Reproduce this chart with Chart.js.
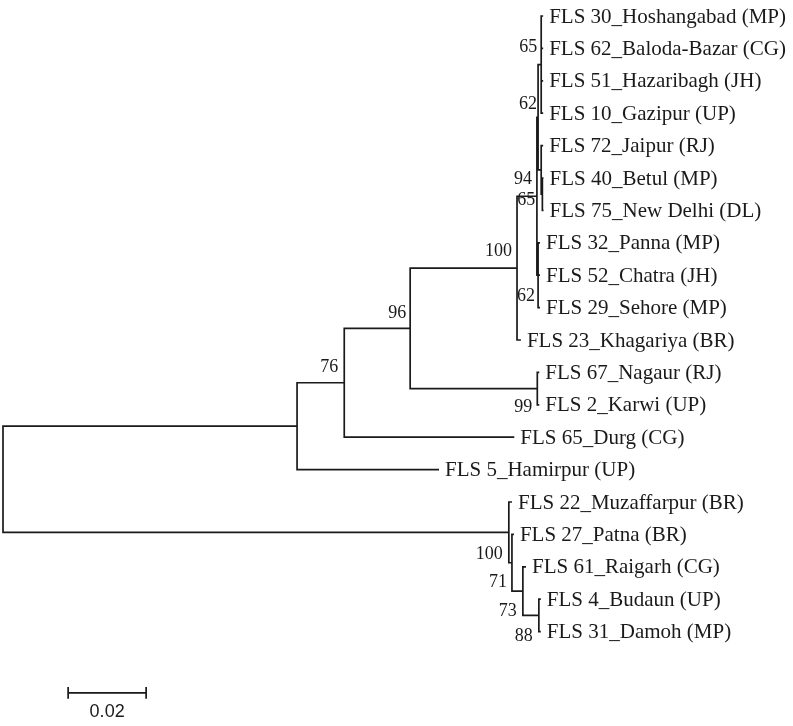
<!DOCTYPE html>
<html>
<head>
<meta charset="utf-8">
<script src="https://cdn.jsdelivr.net/npm/chart.js@4.4.1/dist/chart.umd.min.js"></script>
<style>
  html, body { margin: 0; padding: 0; background: #fff; }
  #wrap { width: 793px; height: 726px; }
</style>
</head>
<body>
<div id="wrap"><canvas id="treeChart" width="793" height="726"></canvas></div>
<script>
// Leaf labels, top to bottom
const leafNames = [
  "FLS 30_Hoshangabad (MP)", "FLS 62_Baloda-Bazar (CG)", "FLS 51_Hazaribagh (JH)",
  "FLS 10_Gazipur (UP)", "FLS 72_Jaipur (RJ)", "FLS 40_Betul (MP)",
  "FLS 75_New Delhi (DL)", "FLS 32_Panna (MP)", "FLS 52_Chatra (JH)",
  "FLS 29_Sehore (MP)", "FLS 23_Khagariya (BR)", "FLS 67_Nagaur (RJ)",
  "FLS 2_Karwi (UP)", "FLS 65_Durg (CG)", "FLS 5_Hamirpur (UP)",
  "FLS 22_Muzaffarpur (BR)", "FLS 27_Patna (BR)", "FLS 61_Raigarh (CG)",
  "FLS 4_Budaun (UP)", "FLS 31_Damoh (MP)"
];
const leafParents = ["S", "S", "S", "S", "U", "X", "X", "C", "C", "C",
  "N100", "N99", "N99", "N76", "N1", "L", "M", "D", "E", "E"];
const leafLengths = [0.0005, 0.0005, 0.0005, 0.0005, 0.0005, 0.0003, 0.0003,
  0.0005, 0.0005, 0.0005, 0.0010, 0.0005, 0.0005, 0.0436, 0.0364,
  0.0008, 0.0005, 0.0008, 0.0005, 0.0005];

// Internal nodes
const nodeNames   = ["root", "N1", "N76", "N96", "N100", "A", "B", "S", "U", "X", "C", "N99", "L", "M", "D", "E"];
const nodeParents = [null, "root", "N1", "N76", "N96", "N100", "A", "B", "B", "U", "A", "N96", "root", "L", "M", "D"];
const nodeLengths = [0, 0.0754, 0.0121, 0.0169, 0.0274, 0.0051, 0.0003, 0.0008, 0.0008, 0.0003, 0.0003, 0.0326, 0.1297, 0.0008, 0.0028, 0.0041];

// Bootstrap support values
const bootNodes  = ["S", "B", "A", "X", "N100", "C", "N96", "N99", "N76", "L", "M", "D", "E"];
const bootValues = [65, 62, 94, 65, 100, 62, 96, 99, 76, 100, 71, 73, 88];

const scaleBarValue = 0.02;

// label placement (pixels, relative to node): [dx right edge, dy centre]
const bootOffsets = [[-4, -17], [-1, -13], [-5, -17], [-7, 6], [-5, -17], [-3, 21], [-4, -15], [-5, 19],
  [-6, -16], [-6, 22], [-5, 20], [-6, 20], [-6, 21]];

// build tree geometry
var nodes = {};
nodeNames.forEach(function (n, i) {
  nodes[n] = { name: n, parent: nodeParents[i], len: nodeLengths[i], children: [] };
});
var leaves = leafNames.map(function (n, i) {
  return { name: n, parent: leafParents[i], len: leafLengths[i], y: i, children: [] };
});
nodeNames.forEach(function (n) {
  if (nodes[n].parent) nodes[nodes[n].parent].children.push(nodes[n]);
});
leaves.forEach(function (l) { nodes[l.parent].children.push(l); });

function setX(node, x) {
  node.x = x + node.len;
  node.children.forEach(function (c) { setX(c, node.x); });
}
function setY(node) {
  if (!node.children.length) return node.y;
  var ys = node.children.map(setY);
  node.y = (Math.min.apply(null, ys) + Math.max.apply(null, ys)) / 2;
  return node.y;
}
setX(nodes.root, 0);
setY(nodes.root);

var branchPoints = [];
function addBranches(node) {
  node.children.forEach(function (c) {
    branchPoints.push({ x: node.x, y: node.y }, { x: node.x, y: c.y }, { x: c.x, y: c.y }, { x: c.x, y: null });
    addBranches(c);
  });
}
addBranches(nodes.root);

// scale bar
var barStart = 0.0167, barRow = 20.89, tick = 0.18;
var barPoints = [
  { x: barStart, y: barRow }, { x: barStart + scaleBarValue, y: barRow }, { x: barStart + scaleBarValue, y: null },
  { x: barStart, y: barRow - tick }, { x: barStart, y: barRow + tick }, { x: barStart, y: null },
  { x: barStart + scaleBarValue, y: barRow - tick }, { x: barStart + scaleBarValue, y: barRow + tick }
];

// text labels plugin
const treeLabels = {
  id: "treeLabels",
  afterDatasetsDraw: function (chart) {
    var ctx = chart.ctx, xs = chart.scales.x, ys = chart.scales.y;
    ctx.save();
    ctx.fillStyle = "#1a1a1a";
    ctx.textBaseline = "middle";
    ctx.font = "21px 'Liberation Serif', 'Times New Roman', serif";
    ctx.textAlign = "left";
    leaves.forEach(function (l) {
      ctx.fillText(l.name, xs.getPixelForValue(l.x) + 6, ys.getPixelForValue(l.y) + 1);
    });
    ctx.font = "18px 'Liberation Serif', 'Times New Roman', serif";
    ctx.textAlign = "right";
    bootNodes.forEach(function (n, i) {
      var nd = nodes[n];
      ctx.fillText(String(bootValues[i]),
        xs.getPixelForValue(nd.x) + bootOffsets[i][0],
        ys.getPixelForValue(nd.y) + bootOffsets[i][1]);
    });
    ctx.font = "18px 'Liberation Sans', Arial, sans-serif";
    ctx.textAlign = "center";
    ctx.fillText(String(scaleBarValue), xs.getPixelForValue(barStart + scaleBarValue / 2), ys.getPixelForValue(barRow) + 19);
    ctx.restore();
  }
};

document.addEventListener("DOMContentLoaded", function () {
  var ctx = document.getElementById("treeChart").getContext("2d");
  new Chart(ctx, {
    type: "scatter",
    data: {
      datasets: [{
        data: branchPoints,
        showLine: true,
        spanGaps: false,
        borderColor: "#1a1a1a",
        borderWidth: 1.7,
        pointRadius: 0,
        borderJoinStyle: "miter"
      }, {
        data: barPoints,
        showLine: true,
        spanGaps: false,
        borderColor: "#1a1a1a",
        borderWidth: 1.7,
        pointRadius: 0
      }]
    },
    options: {
      responsive: false,
      animation: false,
      events: [],
      layout: { padding: 0 },
      plugins: { legend: { display: false }, tooltip: { enabled: false } },
      scales: {
        x: { type: "linear", display: false, min: -3 / 3900, max: 790 / 3900 },
        y: { type: "linear", display: false, reverse: true, min: -0.494, max: 21.914 }
      }
    },
    plugins: [treeLabels]
  });
});
</script>
</body>
</html>
